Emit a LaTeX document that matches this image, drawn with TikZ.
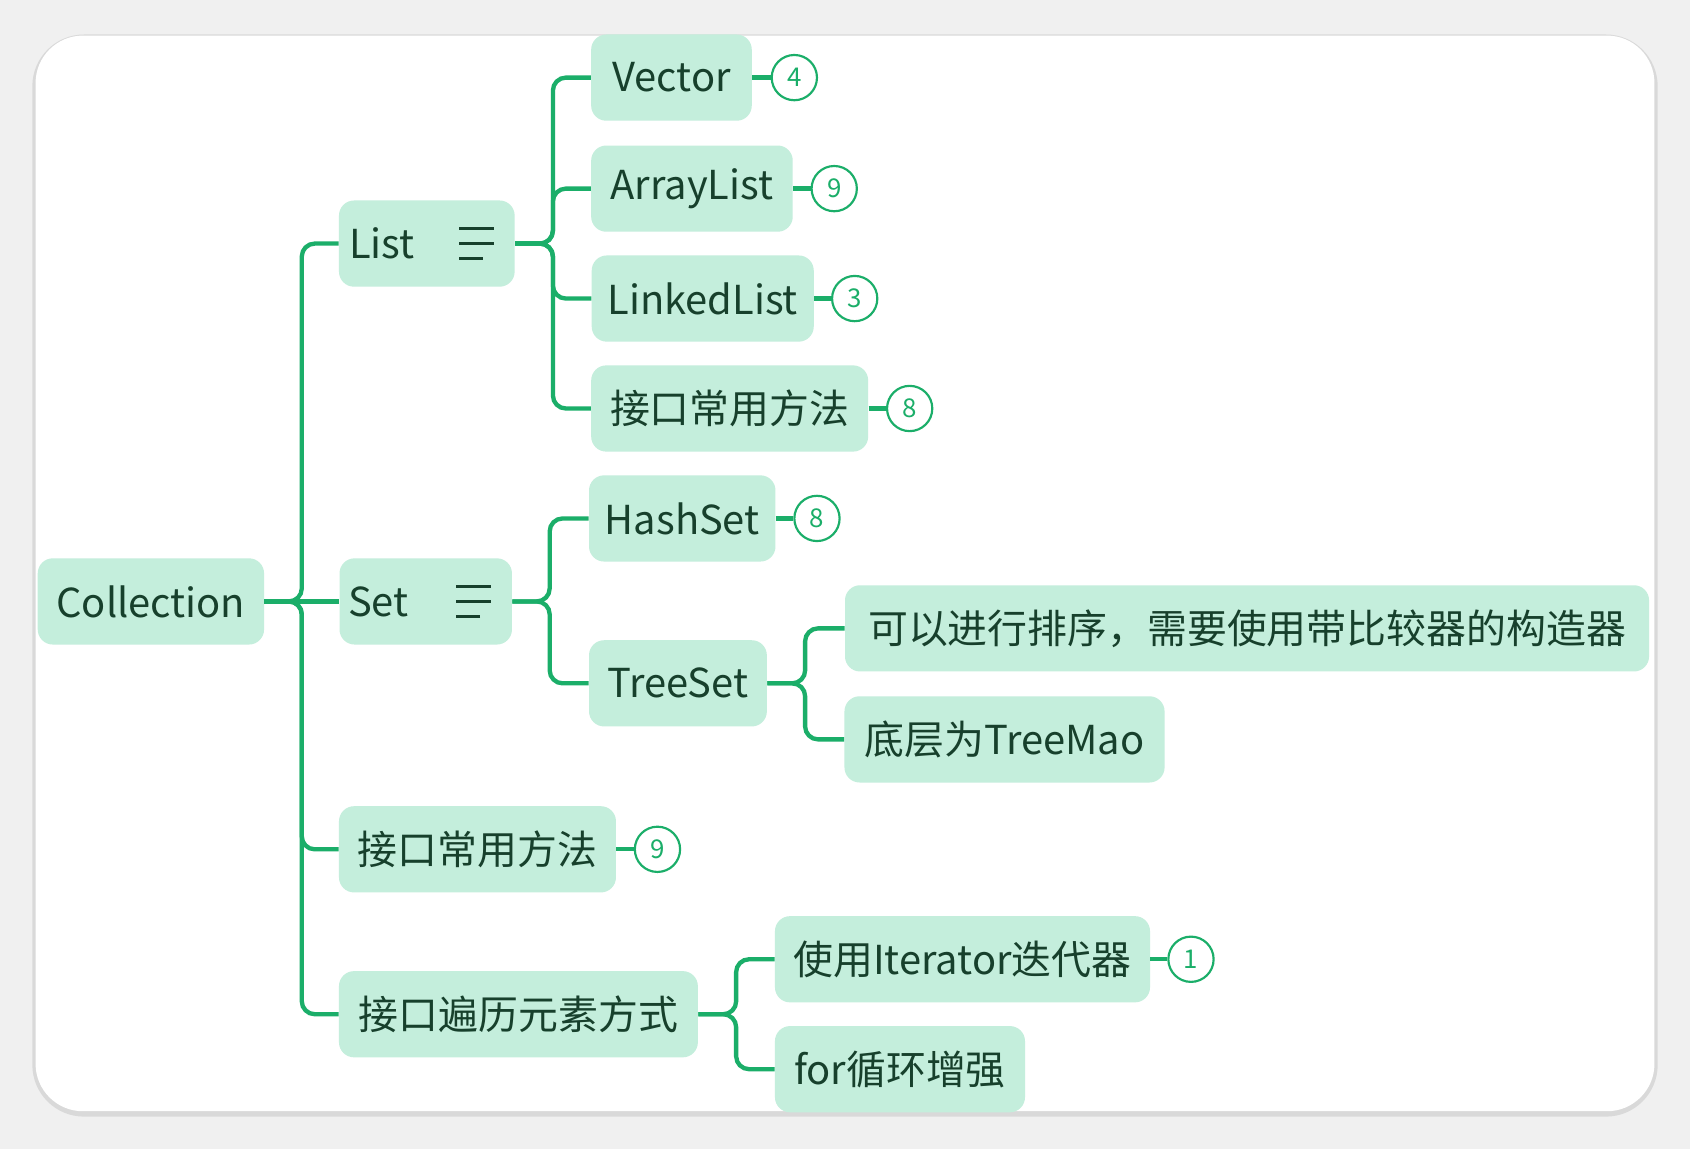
\documentclass[tikz,border=0pt]{standalone}
\usepackage{fontspec}
\setmainfont{Noto Sans CJK SC}
\begin{document}
\begin{tikzpicture}[x=0.5pt,y=-0.5pt,
  box/.style={fill=nfill,rounded corners=7pt,minimum height=40pt,inner sep=0pt,text=ntext,font=\fontsize{18.5}{19}\selectfont},
  conn/.style={draw=lgreen,line width=2pt,rounded corners=6pt},
  sconn/.style={draw=lgreen,line width=2pt},
  num/.style={circle,draw=lgreen,line width=1pt,minimum size=21pt,inner sep=0pt,text=lgreen,font=\fontsize{12}{12}\selectfont}]
\definecolor{nfill}{HTML}{C4EEDC}
\definecolor{ntext}{HTML}{17402C}
\definecolor{lgreen}{HTML}{1BAE69}
\useasboundingbox (0,0) rectangle (1568,1066);
\fill[gray!12] (0,0) rectangle (1568,1066);
\fill[gray!30,rounded corners=24pt] (30,32) rectangle (1538,1036);
\fill[white,rounded corners=22pt] (33,33) rectangle (1535,1031);
\node[box,minimum width=105pt] (coll) at (140,558) {Collection};
\node[box,minimum width=81.5pt,text width=72pt,align=left] (list) at (396,226) {List};
\node[box,minimum width=80pt,text width=72pt,align=left] (set) at (395,558) {Set};
\node[box,minimum width=128.5pt] (m1) at (443,788) {接口常用方法};
\node[box,minimum width=166.5pt] (it) at (481,941) {接口遍历元素方式};
\node[box,minimum width=74.5pt] (vec) at (623,72) {Vector};
\node[box,minimum width=93.5pt] (al) at (642,175) {ArrayList};
\node[box,minimum width=103pt] (ll) at (652,277) {LinkedList};
\node[box,minimum width=128.5pt] (m2) at (677,379) {接口常用方法};
\node[box,minimum width=86.5pt] (hs) at (633,481) {HashSet};
\node[box,minimum width=82.5pt] (ts) at (629,634) {TreeSet};
\node[box,minimum width=373pt] (t1) at (1157,583) {可以进行排序，需要使用带比较器的构造器};
\node[box,minimum width=148.5pt] (t2) at (932,686) {底层为TreeMao};
\node[box,minimum width=174pt] (i1) at (893,890) {使用Iterator迭代器};
\node[box,minimum width=116pt] (i2) at (835,992) {for循环增强};
% icons
\foreach \n in {list,set}{
  \draw[ntext,line width=1.3pt] ([xshift=-10pt,yshift=7pt]\n.east) -- ++(-16pt,0)
   ([xshift=-10pt]\n.east) -- ++(-16pt,0) ([xshift=-15pt,yshift=-7pt]\n.east) -- ++(-11pt,0);}
% numbers
\node[num] (n4) at (737,72) {4};
\node[num] (n9a) at (774,175) {9};
\node[num] (n3) at (793,277) {3};
\node[num] (n8a) at (844,379) {8};
\node[num] (n8b) at (758,481) {8};
\node[num] (n9b) at (610,788) {9};
\node[num] (n1) at (1105,890) {1};
\foreach \a/\b in {vec/n4,al/n9a,ll/n3,m2/n8a,hs/n8b,m1/n9b,i1/n1}
  \draw[sconn] (\a.east) -- (\b.west);
% trees
\draw[sconn] (coll.east) -- (set.west);
\foreach \c in {list,m1,it} \draw[conn] (coll.east) -- (280,558) |- (\c.west);
\foreach \c in {vec,al,ll,m2} \draw[conn] (list.east) -- (513,226) |- (\c.west);
\foreach \c in {hs,ts} \draw[conn] (set.east) -- (510,558) |- (\c.west);
\foreach \c in {t1,t2} \draw[conn] (ts.east) -- (747,634) |- (\c.west);
\foreach \c in {i1,i2} \draw[conn] (it.east) -- (683,941) |- (\c.west);
\end{tikzpicture}
\end{document}
